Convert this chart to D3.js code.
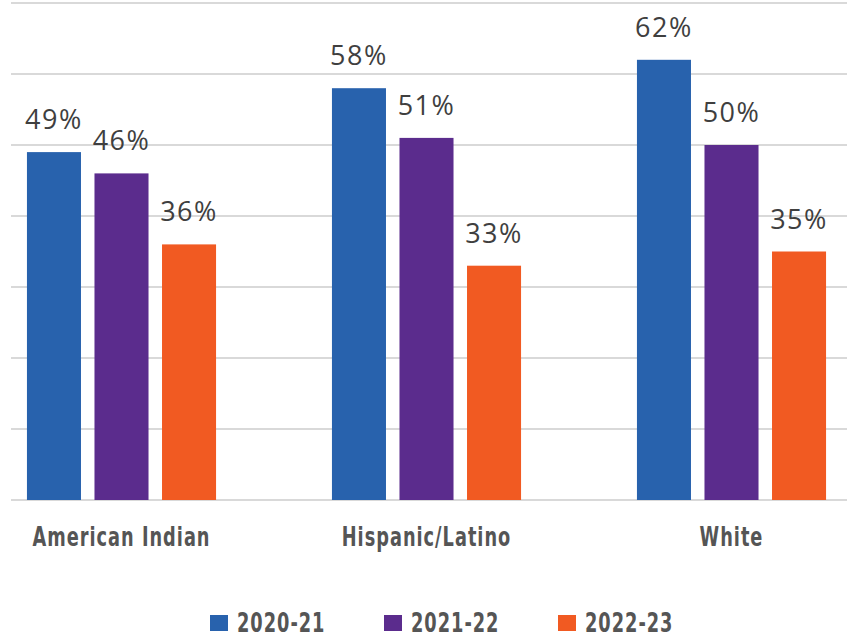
<!DOCTYPE html>
<html><head><meta charset="utf-8">
<script src="https://cdn.jsdelivr.net/npm/d3@7"></script>
<style>html,body{margin:0;padding:0;background:#fff;}</style>
</head><body>
<svg id="c" width="858" height="644"></svg>
<script>
const categories = ["American Indian", "Hispanic/Latino", "White"];
const seriesNames = ["2020-21", "2021-22", "2022-23"];
const values2020 = [49, 58, 62];
const values2021 = [46, 51, 50];
const values2022 = [36, 33, 35];
const seriesColors = ["#2862ad", "#5b2c8d", "#f15a22"];
const gridTicks = [0, 10, 20, 30, 40, 50, 60, 70];

const seriesValues = [values2020, values2021, values2022];
const svg = d3.select("#c");
const y = d3.scaleLinear().domain([0, 70]).range([500, 3]);
const x0 = d3.scaleBand().domain(categories).range([-31, 884]).paddingInner(0.38).paddingOuter(0.19);
const x1 = d3.scaleBand().domain(seriesNames).range([0, x0.bandwidth()]).paddingInner(0.2).paddingOuter(0);
const condensedFont = "'DejaVu Sans Condensed', 'DejaVu Sans', sans-serif";
const squeeze = 0.76;

// gridlines
svg.append("g").selectAll("line").data(gridTicks).join("line")
  .attr("x1", 11).attr("x2", 847)
  .attr("y1", d => y(d)).attr("y2", d => y(d))
  .attr("stroke", "#d9d9d9").attr("stroke-width", 2);

const groups = svg.append("g").selectAll("g").data(categories).join("g")
  .attr("transform", c => `translate(${x0(c)},0)`);

groups.each(function(c, ci) {
  const g = d3.select(this);
  seriesNames.forEach((s, si) => {
    const v = seriesValues[si][ci];
    g.append("rect")
      .attr("x", x1(s)).attr("width", x1.bandwidth())
      .attr("y", y(v)).attr("height", y(0) - y(v))
      .attr("fill", seriesColors[si]);
    g.append("text")
      .attr("x", x1(s) + x1.bandwidth() / 2)
      .attr("y", y(v) - 23)
      .attr("text-anchor", "middle")
      .attr("font-family", "'Open Sans', sans-serif")
      .attr("font-size", 27)
      .attr("letter-spacing", 1.5)
      .attr("fill", "#3f3f3f")
      .text(v + "%");
  });
});

// category labels
svg.append("g").selectAll("text").data(categories).join("text")
  .attr("transform", c => `translate(${x0(c) + x0.bandwidth() / 2},546) scale(${squeeze},1)`)
  .attr("text-anchor", "middle")
  .attr("font-family", condensedFont)
  .attr("font-weight", "bold")
  .attr("font-size", 26)
  .attr("letter-spacing", 1.3)
  .attr("fill", "#555555")
  .text(c => c);

// legend
const legendX = [210, 384, 558];
const lg = svg.append("g").selectAll("g").data(seriesNames).join("g")
  .attr("transform", (d, i) => `translate(${legendX[i]},0)`);
lg.append("rect").attr("x", 0).attr("y", 615).attr("width", 18).attr("height", 16)
  .attr("fill", (d, i) => seriesColors[i]);
lg.append("text")
  .attr("transform", `translate(27,632) scale(${squeeze},1)`)
  .attr("font-family", condensedFont)
  .attr("font-weight", "bold")
  .attr("font-size", 26)
  .attr("letter-spacing", 1.3)
  .attr("fill", "#555555")
  .text(d => d);
</script>
</body></html>
